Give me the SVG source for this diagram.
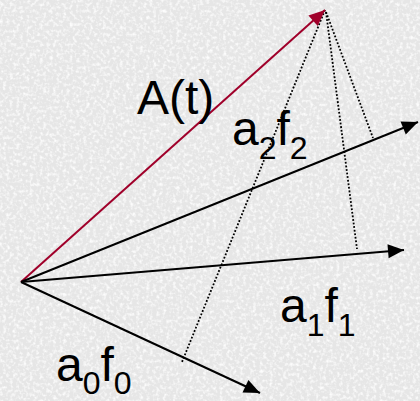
<svg xmlns="http://www.w3.org/2000/svg" width="420" height="401" viewBox="0 0 420 401">
  <style>
    .lbl { font-family: "Liberation Sans", Arial, sans-serif; font-size: 48px; fill: #000; }
    .sub { font-size: 32px; }
    .vec { stroke: #000; stroke-width: 2; fill: none; }
    .res { stroke: #A0002A; stroke-width: 2; fill: none; }
    .proj { stroke: #000; stroke-width: 1.8; stroke-dasharray: 1.8 1.8; fill: none; }
  </style>
  <defs>
    <marker id="ah" markerUnits="userSpaceOnUse" markerWidth="17" markerHeight="15" refX="16" refY="7" orient="auto" overflow="visible">
      <path d="M0,0 L16,7 L0,14 z" fill="#000"/>
    </marker>
    <marker id="ahr" markerUnits="userSpaceOnUse" markerWidth="17" markerHeight="15" refX="16" refY="7" orient="auto" overflow="visible">
      <path d="M0,0 L16,7 L0,14 z" fill="#A0002A"/>
    </marker>
    <filter id="tex" x="0" y="0" width="100%" height="100%">
      <feTurbulence type="fractalNoise" baseFrequency="0.3" numOctaves="2" seed="3" result="n"/>
      <feColorMatrix type="matrix" in="n" values="0 0 0 0 1  0 0 0 0 1  0 0 0 0 1  2.5 0 0 0 -1.1"/>
    </filter>
  </defs>
  <rect x="0" y="0" width="420" height="401" fill="#e6e6e6"/>
  <rect x="0" y="0" width="420" height="401" fill="#fff" filter="url(#tex)" opacity="0.9"/>

  <g id="connectors">
    <line class="proj" x1="325" y1="10" x2="182" y2="362"/>
    <line class="proj" x1="326" y1="12" x2="357" y2="249"/>
    <line class="proj" x1="326" y1="12" x2="373" y2="138"/>
    <line id="A" class="res" x1="21" y1="282" x2="325" y2="10" marker-end="url(#ahr)"/>
    <line id="v2" class="vec" x1="21" y1="282" x2="418" y2="122" marker-end="url(#ah)"/>
    <line id="v1" class="vec" x1="21" y1="282" x2="404" y2="250" marker-end="url(#ah)"/>
    <line id="v0" class="vec" x1="21" y1="282" x2="260" y2="393" marker-end="url(#ah)"/>
  </g>

  <g id="label-At"><text class="lbl" x="137" y="114">A(t)</text></g>
  <g id="label-a2f2"><text class="lbl" x="232" y="145">a<tspan class="sub" dy="14">2</tspan><tspan dy="-14">f</tspan><tspan class="sub" dy="14">2</tspan></text></g>
  <g id="label-a1f1"><text class="lbl" x="280" y="322">a<tspan class="sub" dy="14">1</tspan><tspan dy="-14">f</tspan><tspan class="sub" dy="14">1</tspan></text></g>
  <g id="label-a0f0"><text class="lbl" x="56" y="381">a<tspan class="sub" dy="13">0</tspan><tspan dy="-13">f</tspan><tspan class="sub" dy="13">0</tspan></text></g>
</svg>
